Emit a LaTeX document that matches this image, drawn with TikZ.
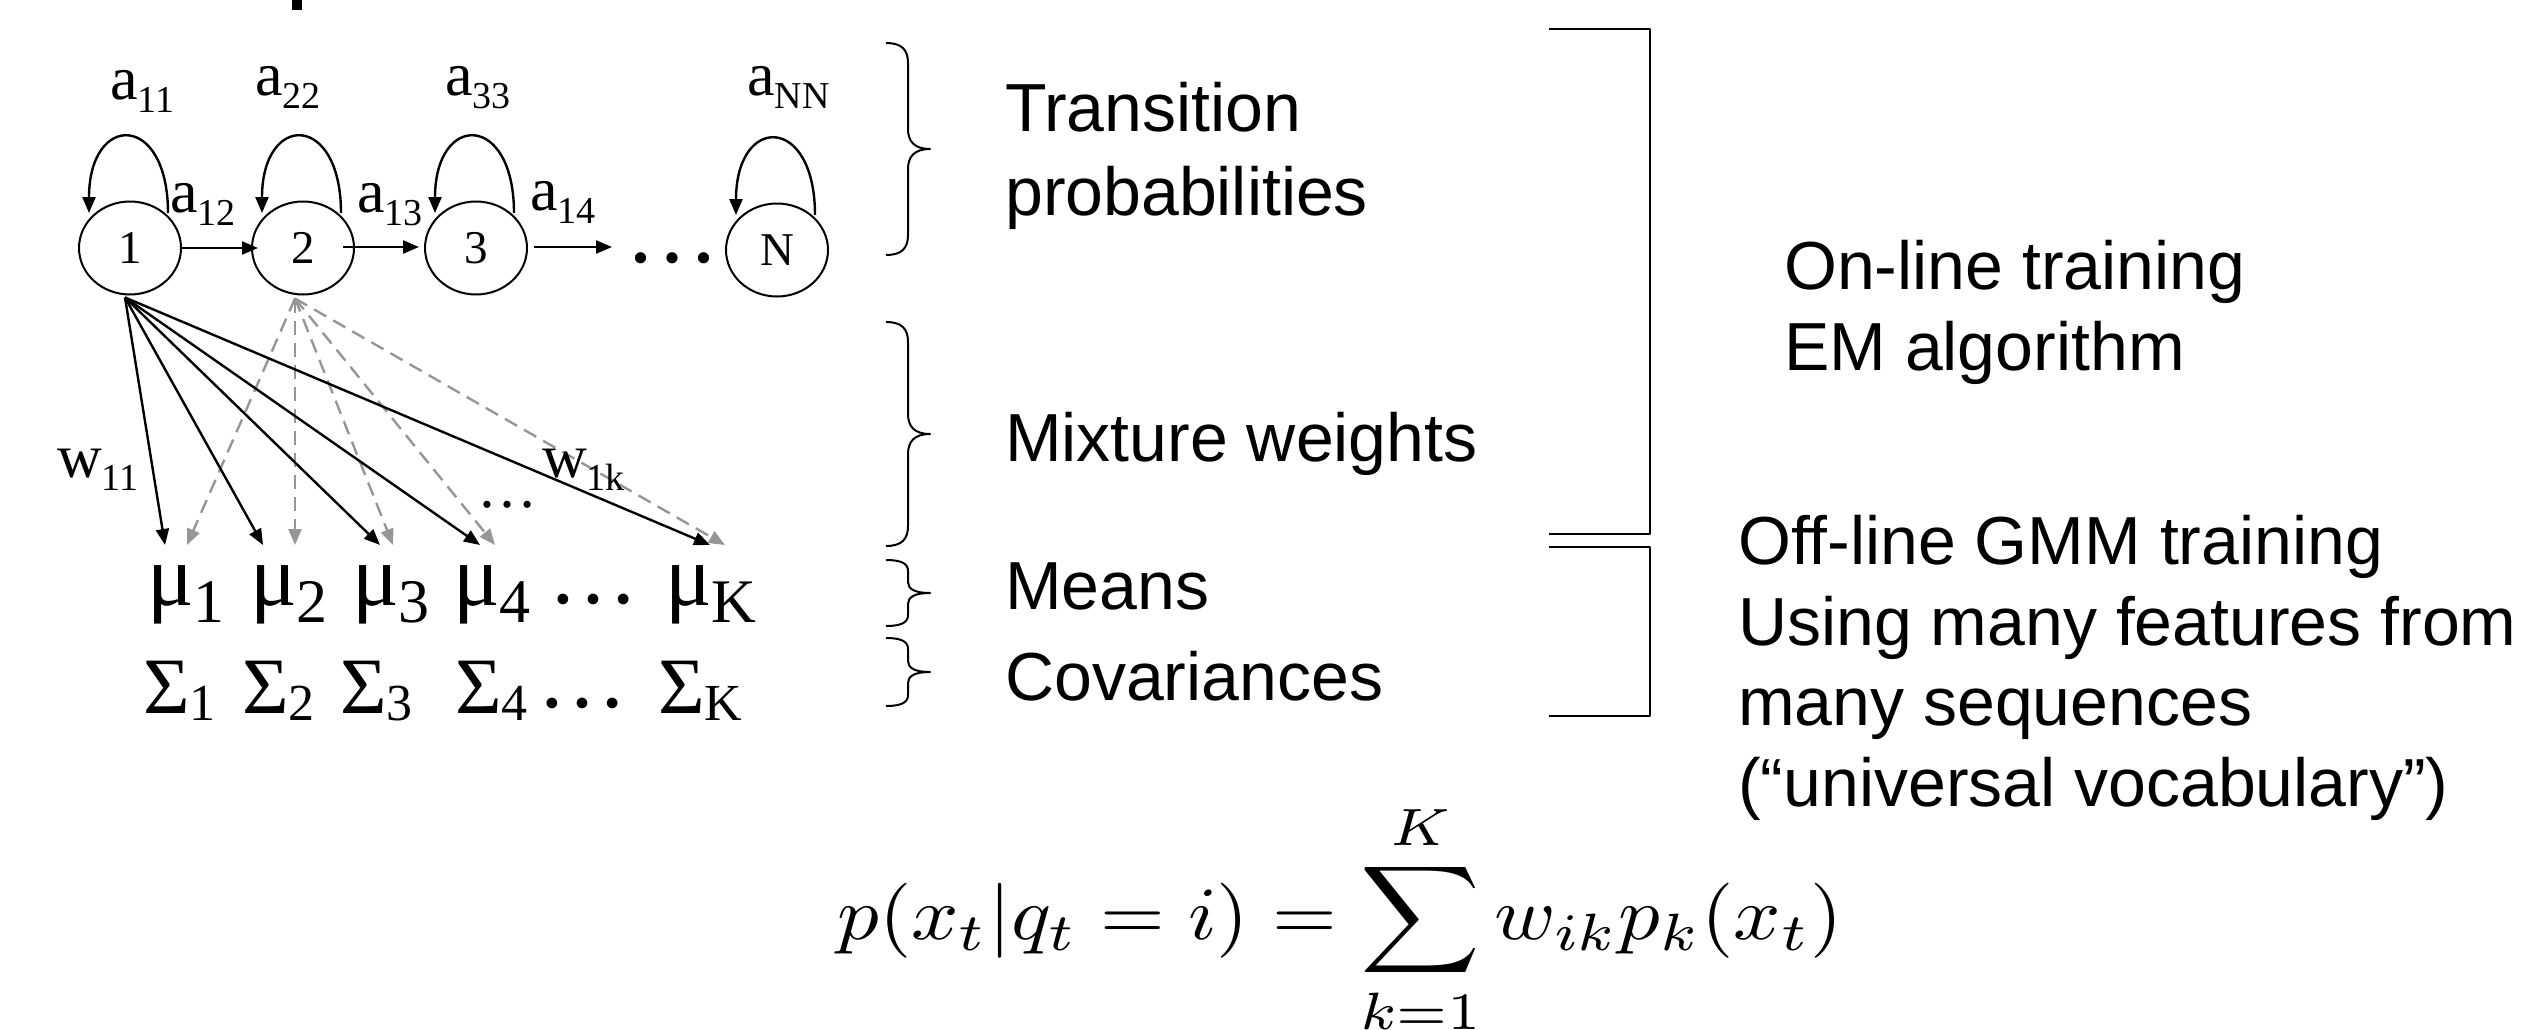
\documentclass[tikz,border=0pt]{standalone}
\usepackage[no-math]{fontspec}
\setmainfont{Liberation Serif}
\newfontfamily\sansf{Liberation Sans}
\usepackage{graphicx}
\usetikzlibrary{shapes.geometric,arrows.meta,calc}
\definecolor{grayc}{RGB}{150,150,150}
\newcommand{\sz}[1]{\fontsize{#1}{#1}\selectfont}
\newcommand{\lbl}[2]{{\sz{62}#1}\raisebox{-13pt}{\sz{38}#2}}
\newcommand{\mulbl}[1]{{\sz{87}μ}\raisebox{-17pt}{\sz{62}#1}}
\newcommand{\sglbl}[1]{{\sz{80}Σ}\raisebox{-7pt}{\sz{52}#1}}
\newcommand{\drawbrace}[4]{%
 \draw[brc] (886,#1) .. controls (902,#1) and (908,{#1+0.35*#4}) .. (908,{#1+#4})
 -- (908,{#2-#4}) .. controls (908,{#2-0.4*#4}) and (914,#2) .. (930,#2)
 .. controls (914,#2) and (908,{#2+0.4*#4}) .. (908,{#2+#4})
 -- (908,{#3-#4}) .. controls (908,{#3-0.35*#4}) and (902,#3) .. (886,#3);}
\tikzset{
 st/.style={ellipse, draw, line width=2pt, minimum width=102pt, minimum height=93pt, inner sep=0pt, font=\sz{47}},
 arr/.style={line width=2.4pt, -{Triangle[length=16pt,width=13pt]}},
 garr/.style={line width=2.4pt, draw=grayc, dash pattern=on 14pt off 8pt, -{Triangle[length=16pt,width=13pt,fill=grayc,color=grayc]}},
 lab/.style={anchor=base west, inner sep=0pt},
 brc/.style={line width=2pt},
 bkt/.style={line width=2.4pt},
 txt/.style={anchor=base west, inner sep=0pt, font=\sansf\sz{68}},
}
\begin{document}
\begin{tikzpicture}[x=1pt, y=-1pt, line join=round]
\useasboundingbox (0,0) rectangle (2536,1030);
% cut-off title fragment
\fill (292,0) rectangle (302,10);
% states
\node[st] (n1) at (130,248) {1};
\node[st] (n2) at (303,248) {2};
\node[st] (n3) at (476,248) {3};
\node[st] (nN) at (777,250) {N};
% self loops
\foreach \n in {n1,n2,n3,nN}{
 \draw[arr] ($(\n.center)+(38,-35)$) .. controls ($(\n.center)+(38,-136)$) and ($(\n.center)+(-41,-136)$) .. ($(\n.center)+(-41,-35)$);
}
% forward transitions
\coordinate (dotsarr) at (612,247);
\draw[arr] (n1.east) -- ($(n2.west)+(7,0)$);
\draw[arr] ($(n2.east)+(-12,-1)$) -- ($(n3.west)+(-5,-1)$);
\draw[arr] ($(n3.east)+(6,-1)$) -- (dotsarr);
\node[anchor=base, inner sep=0pt] (hdots) at (672,262) {\sz{94}…};
% transition labels
\node[lab] (a11) at (110,100) {\lbl{a}{11}};
\node[lab] (a22) at (255,96) {\lbl{a}{22}};
\node[lab] (a33) at (445,96) {\lbl{a}{33}};
\node[lab] (aNN) at (747,96) {\lbl{a}{NN}};
\node[lab] (a12) at (170,212) {\lbl{a}{12}};
\node[lab] (a13) at (357,212) {\lbl{a}{13}};
\node[lab] (a14) at (530,211) {\lbl{a}{14}};
% means
\node[lab] (mu1) at (147,605) {\mulbl{1}};
\node[lab] (mu2) at (250,605) {\mulbl{2}};
\node[lab] (mu3) at (352,605) {\mulbl{3}};
\node[lab] (mu4) at (453,605) {\mulbl{4}};
\node[anchor=base, inner sep=0pt] (mudots) at (593,603) {\sz{90}…};
\node[lab] (muK) at (665,605) {\mulbl{K}};
% covariances
\node[lab] (sg1) at (143,713) {\sglbl{1}};
\node[lab] (sg2) at (242,713) {\sglbl{2}};
\node[lab] (sg3) at (340,713) {\sglbl{3}};
\node[lab] (sg4) at (455,713) {\sglbl{4}};
\node[anchor=base, inner sep=0pt] (sgdots) at (582,707) {\sz{90}…};
\node[lab] (sgK) at (658,713) {\sglbl{K}};
% arrow targets above the means
\coordinate (bt1) at (165,545); \coordinate (gt1) at (187,545);
\coordinate (bt2) at (263,545); \coordinate (gt2) at (295,545);
\coordinate (bt3) at (380,545); \coordinate (gt3) at (393,545);
\coordinate (bt4) at (480,545); \coordinate (gt4) at (495,545);
\coordinate (bt5) at (710,545); \coordinate (gt5) at (725,545);
\foreach \i in {1,...,5}{
 \draw[garr] ($(n2.south)+(-8,3)$) -- (gt\i);
}
\foreach \i in {1,...,5}{
 \draw[arr] ($(n1.south)+(-5,2)$) -- (bt\i);
}
% weight labels
\node[lab] (w11) at (57,477) {\lbl{w}{11}};
\node[lab] (w1k) at (542,477) {\lbl{w}{1k}};
\node[anchor=base, inner sep=0pt] (wdots) at (507,507) {\sz{60}…};
% braces
\drawbrace{43}{149}{255}{20}
\drawbrace{322}{434}{546}{20}
\drawbrace{560}{593}{626}{11}
\drawbrace{638}{672}{706}{11}
% brace texts
\node[txt] (tr1) at (1005,132) {Transition};
\node[txt] (tr2) at (1005,215) {probabilities};
\node[txt] (mix) at (1005,461) {Mixture weights};
\node[txt] (mea) at (1005,609) {Means};
\node[txt] (cov) at (1005,700) {Covariances};
% brackets
\draw[bkt] (1549,29) -- (1650,29) -- (1650,534) -- (1549,534);
\draw[bkt] (1549,547) -- (1650,547) -- (1650,716) -- (1549,716);
% bracket texts
\node[txt] (on1) at (1784,289) {On-line training};
\node[txt] (on2) at (1784,370) {EM algorithm};
\node[txt] (of1) at (1738,564) {Off-line GMM training};
\node[txt] (of2) at (1738,645) {Using many features from};
\node[txt] (of3) at (1738,725) {many sequences};
\node[txt] (of4) at (1738,806) {(“universal vocabulary”)};
% formula
\node[anchor=base west, inner sep=0pt] (eq) at (837,939) {\scalebox{8.31}[7.5]{$\displaystyle p(x_t|q_t = i) = \sum_{k=1}^{K} w_{ik} p_k(x_t)$}};
\end{tikzpicture}
\end{document}
